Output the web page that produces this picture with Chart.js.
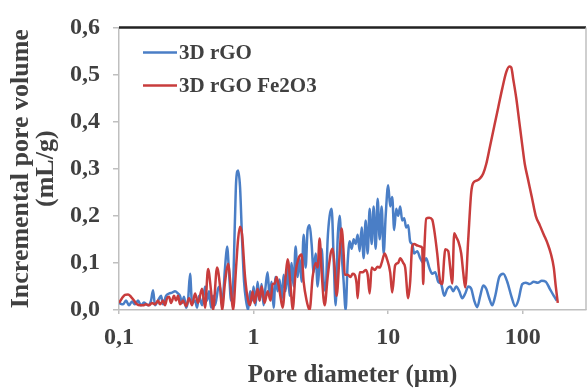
<!DOCTYPE html>
<html>
<head>
<meta charset="utf-8">
<script src="https://cdn.jsdelivr.net/npm/chart.js@4.4.0/dist/chart.umd.min.js"></script>
<style>
  html, body { margin: 0; padding: 0; background: #fff; }
  #wrap { width: 587px; height: 388px; }
</style>
</head>
<body>
<div id="wrap"><canvas id="poreChart" width="587" height="388"></canvas></div>
<script>
// pore size distribution, 3D rGO and 3D rGO Fe2O3
const seriesLabels = ["3D rGO", "3D rGO Fe2O3"];

const rgoDiameter = [
  0.1, 0.1071, 0.1127, 0.1187, 0.1249, 0.1315, 0.1384, 0.1457, 0.1534, 0.1643,
  0.173, 0.179, 0.1852, 0.195, 0.2052, 0.2124, 0.2236, 0.2354, 0.2478, 0.2608,
  0.2746, 0.2841, 0.294, 0.3043, 0.3149, 0.3258, 0.3372, 0.3489, 0.3673, 0.3801,
  0.3934, 0.4141, 0.4359, 0.4511, 0.4668, 0.483, 0.4999, 0.5173, 0.5445, 0.5635,
  0.5831, 0.6138, 0.6352, 0.6573, 0.6802, 0.7039, 0.7284, 0.741, 0.7668, 0.7935,
  0.8212, 0.8497, 0.8793, 0.91, 0.9417, 0.9745, 1.0, 1.035, 1.071, 1.108,
  1.147, 1.187, 1.228, 1.271, 1.315, 1.361, 1.408, 1.457, 1.508, 1.561,
  1.615, 1.671, 1.729, 1.79, 1.852, 1.917, 1.983, 2.052, 2.124, 2.198,
  2.274, 2.354, 2.436, 2.52, 2.608, 2.699, 2.793, 2.89, 2.991, 3.095,
  3.203, 3.315, 3.43, 3.55, 3.673, 3.801, 3.934, 4.071, 4.212, 4.359,
  4.511, 4.668, 4.83, 4.999, 5.173, 5.353, 5.539, 5.732, 5.932, 6.138,
  6.352, 6.573, 6.802, 7.039, 7.284, 7.538, 7.8, 8.072, 8.353, 8.644,
  8.945, 9.257, 9.579, 10.0, 10.35, 10.71, 11.08, 11.47, 11.87, 12.28,
  12.71, 13.15, 13.61, 14.08, 14.57, 15.08, 15.61, 16.43, 17.3, 18.21,
  19.17, 20.18, 21.24, 22.36, 23.54, 24.78, 26.08, 27.46, 28.9, 30.43,
  32.03, 33.72, 35.5, 37.37, 39.34, 41.41, 43.59, 45.89, 48.31, 50.85,
  53.53, 56.35, 59.32, 62.44, 66.87, 71.6, 76.68, 82.12, 87.93, 92.57,
  99.13, 105.3, 112.7, 120.7, 129.3, 138.4, 148.3, 158.8, 170.0, 179.0
];
const rgoVolume = [
  0.015, 0.012, 0.02, 0.01, 0.018, 0.012, 0.02, 0.01, 0.016, 0.01,
  0.02, 0.042, 0.01, 0.02, 0.03, 0.012, 0.03, 0.035, 0.037, 0.04,
  0.035, 0.03, 0.015, 0.028, 0.005, 0.02, 0.077, 0.015, 0.02, 0.005,
  0.03, 0.01, 0.05, 0.02, 0.04, 0.005, 0.03, 0.01, 0.045, 0.05,
  0.01, 0.09, 0.135, 0.08, 0.02, 0.05, 0.2, 0.27, 0.296, 0.26,
  0.15, 0.06, 0.02, 0.0, 0.04, 0.02, 0.05, 0.01, 0.06, 0.02,
  0.055, 0.01, 0.05, 0.08, 0.03, 0.06, 0.005, 0.07, 0.04, 0.065,
  0.02, 0.075, 0.04, 0.09, 0.03, 0.1, 0.05, 0.135, 0.07, 0.11,
  0.06, 0.16, 0.09, 0.17, 0.18, 0.14, 0.08, 0.12, 0.05, 0.1,
  0.13, 0.06, 0.04, 0.15, 0.2, 0.215, 0.11, 0.01, 0.15, 0.2,
  0.12, 0.06, 0.0, 0.1, 0.146, 0.13, 0.15, 0.14, 0.16, 0.125,
  0.175, 0.11, 0.19, 0.12, 0.215, 0.14, 0.22, 0.13, 0.236, 0.15,
  0.22, 0.12, 0.2, 0.265, 0.22, 0.24, 0.17, 0.215, 0.2, 0.22,
  0.19, 0.195, 0.175, 0.18, 0.145, 0.14, 0.12, 0.125, 0.11, 0.1,
  0.11, 0.09, 0.077, 0.08, 0.06, 0.055, 0.03, 0.045, 0.05, 0.04,
  0.05, 0.04, 0.025, 0.035, 0.05, 0.045, 0.02, 0.006, 0.03, 0.052,
  0.045, 0.025, 0.01, 0.03, 0.07, 0.077, 0.06, 0.03, 0.008, 0.02,
  0.055, 0.058, 0.055, 0.06, 0.058, 0.062, 0.06, 0.045, 0.03, 0.02
];

const rgoFeDiameter = [
  0.1, 0.1053, 0.1108, 0.1167, 0.1228, 0.1293, 0.1361, 0.1433, 0.1508, 0.1588,
  0.1671, 0.1759, 0.1852, 0.195, 0.2018, 0.2124, 0.2198, 0.2274, 0.2354, 0.2436,
  0.2564, 0.2653, 0.2746, 0.2841, 0.2991, 0.3149, 0.3315, 0.3489, 0.3673, 0.3867,
  0.4141, 0.4359, 0.4589, 0.483, 0.4999, 0.5353, 0.5635, 0.5831, 0.6138, 0.6462,
  0.6802, 0.7039, 0.741, 0.7668, 0.7935, 0.8212, 0.8644, 0.91, 0.9417, 0.983,
  1.017, 1.071, 1.108, 1.147, 1.207, 1.271, 1.338, 1.384, 1.433, 1.483,
  1.561, 1.643, 1.729, 1.79, 1.884, 1.95, 2.052, 2.161, 2.274, 2.354,
  2.478, 2.608, 2.746, 2.89, 2.991, 3.095, 3.203, 3.372, 3.55, 3.737,
  3.867, 4.002, 4.141, 4.359, 4.511, 4.668, 4.749, 4.999, 5.262, 5.445,
  5.635, 5.831, 5.932, 6.138, 6.462, 6.802, 7.039, 7.284, 7.538, 7.935,
  8.353, 8.644, 8.945, 9.417, 9.745, 10.35, 10.71, 11.27, 11.87, 12.28,
  12.93, 13.38, 14.08, 14.57, 15.08, 15.61, 16.43, 17.3, 17.9, 18.21,
  18.52, 19.17, 20.18, 21.24, 21.98, 23.14, 24.36, 25.2, 26.08, 26.53,
  27.93, 28.9, 29.91, 30.95, 32.03, 33.15, 34.89, 36.11, 37.37, 39.34,
  41.41, 42.85, 45.89, 48.31, 50.85, 53.53, 57.32, 61.38, 65.73, 70.39,
  75.38, 79.35, 82.12, 84.97, 89.45, 94.17, 99.13, 103.5, 108.9, 116.7,
  124.9, 133.8, 143.3, 153.4, 161.5, 170.0, 175.9, 182.1
];
const rgoFeVolume = [
  0.015, 0.025, 0.032, 0.033, 0.028, 0.02, 0.012, 0.01, 0.01, 0.012,
  0.01, 0.015, 0.012, 0.02, 0.012, 0.02, 0.01, 0.025, 0.028, 0.015,
  0.03, 0.02, 0.03, 0.012, 0.02, 0.008, 0.025, 0.01, 0.035, 0.015,
  0.045, 0.005, 0.087, 0.04, 0.0, 0.09, 0.05, 0.0, 0.06, 0.098,
  0.04, 0.0, 0.09, 0.15, 0.177, 0.16, 0.07, 0.02, 0.01, 0.04,
  0.015, 0.045, 0.02, 0.05, 0.015, 0.04, 0.02, 0.055, 0.056, 0.07,
  0.04, 0.005, 0.07, 0.108, 0.05, 0.0, 0.08, 0.11, 0.118, 0.06,
  0.02, 0.0, 0.07, 0.1, 0.09, 0.152, 0.08, 0.01, 0.07, 0.12,
  0.13, 0.09, 0.03, 0.12, 0.173, 0.12, 0.075, 0.075, 0.07, 0.077,
  0.075, 0.055, 0.025, 0.08, 0.08, 0.085, 0.075, 0.035, 0.09, 0.085,
  0.092, 0.09, 0.1, 0.12, 0.11, 0.08, 0.037, 0.095, 0.1, 0.11,
  0.1, 0.09, 0.025, 0.06, 0.135, 0.14, 0.137, 0.135, 0.132, 0.055,
  0.12, 0.194, 0.196, 0.192, 0.17, 0.12, 0.06, 0.055, 0.11, 0.129,
  0.125, 0.09, 0.056, 0.163, 0.155, 0.146, 0.12, 0.08, 0.048, 0.15,
  0.25, 0.27, 0.275, 0.28, 0.29, 0.31, 0.35, 0.39, 0.43, 0.47,
  0.505, 0.517, 0.515, 0.49, 0.45, 0.4, 0.35, 0.31, 0.28, 0.24,
  0.2, 0.18, 0.16, 0.14, 0.12, 0.09, 0.05, 0.015
];

const xTickValues = [0.1, 1, 10, 100];
const xTickLabels = ["0,1", "1", "10", "100"];

const serif = '"Liberation Serif", "Times New Roman", serif';
const textColor = "#404040";
const axisGrey = "#bfbfbf";

function toPoints(xs, ys) {
  return xs.map((x, i) => ({ x: x, y: ys[i] }));
}

// top edge in black, right edge in grey, and a legend inside the plot
const frameLegend = {
  id: "frameLegend",
  afterDraw(chart) {
    const { ctx, chartArea: a } = chart;
    ctx.save();
    ctx.strokeStyle = "#222";
    ctx.lineWidth = 2.5;
    ctx.beginPath();
    ctx.moveTo(a.left, a.top);
    ctx.lineTo(a.right, a.top);
    ctx.stroke();
    ctx.strokeStyle = axisGrey;
    ctx.lineWidth = 1.5;
    ctx.beginPath();
    ctx.moveTo(a.right, a.top);
    ctx.lineTo(a.right, a.bottom);
    ctx.stroke();

    ctx.font = "bold 21px " + serif;
    ctx.textBaseline = "middle";
    ctx.fillStyle = textColor;
    chart.data.datasets.forEach((ds, i) => {
      const y = a.top + 25 + i * 33;
      ctx.strokeStyle = ds.borderColor;
      ctx.lineWidth = 2.5;
      ctx.beginPath();
      ctx.moveTo(a.left + 24, y);
      ctx.lineTo(a.left + 58, y);
      ctx.stroke();
      ctx.fillText(ds.label, a.left + 60, y + 1);
    });
    ctx.restore();
  }
};

new Chart(document.getElementById("poreChart"), {
  type: "line",
  data: {
    datasets: [
      {
        label: seriesLabels[0],
        data: toPoints(rgoDiameter, rgoVolume),
        borderColor: "#4a7ec6",
        borderWidth: 2.5,
        pointRadius: 0,
        cubicInterpolationMode: "monotone",
        order: 1,
      },
      {
        label: seriesLabels[1],
        data: toPoints(rgoFeDiameter, rgoFeVolume),
        borderColor: "#c83c3c",
        borderWidth: 2.5,
        pointRadius: 0,
        cubicInterpolationMode: "monotone",
        order: 0,
      },
    ],
  },
  options: {
    responsive: false,
    animation: false,
    events: [],
    layout: { padding: { top: 22, right: 1, left: 0, bottom: 0 } },
    plugins: { legend: { display: false }, tooltip: { enabled: false } },
    scales: {
      x: {
        type: "logarithmic",
        min: 0.1,
        max: 295,
        afterBuildTicks: (scale) => {
          scale.ticks = xTickValues.map((v) => ({ value: v }));
        },
        afterFit: (scale) => { scale.height = 78; },
        ticks: {
          callback: (value, index) => xTickLabels[index],
          font: { family: serif, size: 24, weight: "bold" },
          color: textColor,
          padding: 9,
          maxRotation: 0,
          autoSkip: false,
        },
        grid: { drawOnChartArea: false, tickLength: 4, color: axisGrey, lineWidth: 1.5 },
        border: { color: axisGrey, width: 1.5 },
        title: {
          display: true,
          text: "Pore diameter (µm)",
          font: { family: serif, size: 25, weight: "bold", lineHeight: 1 },
          color: textColor,
          padding: 0,
        },
      },
      y: {
        min: 0,
        max: 0.6,
        afterFit: (scale) => { scale.width = 119; },
        ticks: {
          stepSize: 0.1,
          callback: (value) => value.toFixed(1).replace(".", ","),
          font: { family: serif, size: 24, weight: "bold" },
          color: textColor,
          padding: 13,
        },
        grid: { drawOnChartArea: false, tickLength: 6, color: axisGrey, lineWidth: 1.5 },
        border: { color: axisGrey, width: 1.5 },
        title: {
          display: true,
          text: ["Incremental pore volume", "(mL/g)"],
          font: { family: serif, size: 26, weight: "bold", lineHeight: 0.95 },
          color: textColor,
          padding: { top: 9, bottom: 0 },
        },
      },
    },
  },
  plugins: [frameLegend],
});
</script>
</body>
</html>
